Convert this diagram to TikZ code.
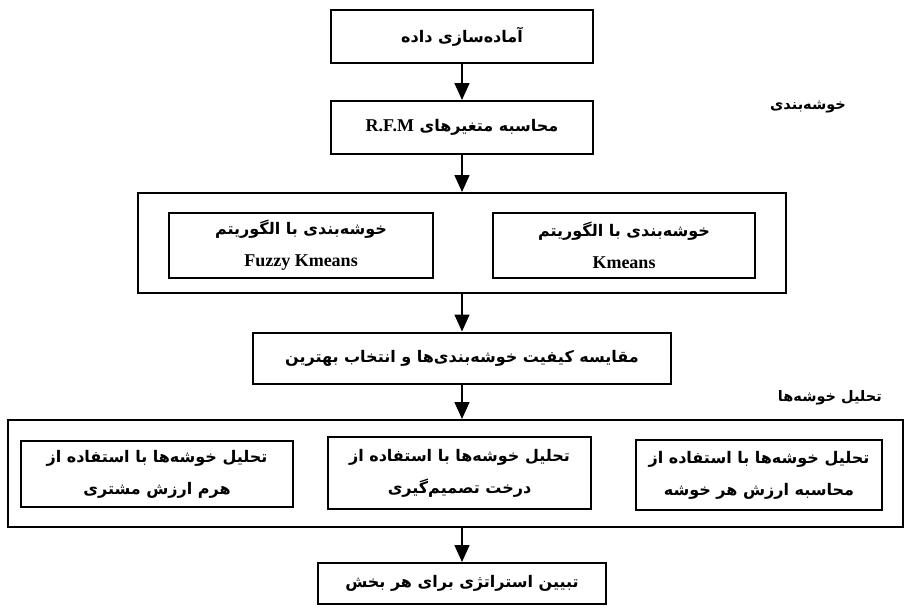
\documentclass[tikz,border=0pt]{standalone}
\usepackage{fontspec}
\setmainfont{Liberation Serif}
\newfontfamily\farsi[Script=Arabic]{DejaVu Sans}
\TeXXeTstate=1
\usetikzlibrary{arrows.meta}
\newcommand{\fatext}[1]{{\farsi\beginR #1\endR}}
\newcommand{\entext}[1]{{\rmfamily\fontsize{18}{20}\selectfont #1}}
\tikzset{
  stepbox/.style={draw, line width=2pt, inner sep=0pt, align=center, font=\bfseries\fontsize{16}{32}\selectfont},
  framebox/.style={draw, line width=2pt, inner sep=0pt},
  steplabel/.style={anchor=east, inner sep=0pt, font=\bfseries\fontsize{14.5}{16}\selectfont},
  flow/.style={line width=1.6pt, -{Triangle[width=15pt,length=17pt]}}
}
\begin{document}
\begin{tikzpicture}[x=1pt,y=-1pt]
\useasboundingbox (0,0) rectangle (909,610);
\node[stepbox, minimum width=262pt, minimum height=53pt] (prep) at (462,36.5) {\fatext{آماده‌سازی داده}};
\node[stepbox, minimum width=262pt, minimum height=53pt] (rfm) at (462,127.5) {\fatext{محاسبه متغیرهای \beginL\entext{R.F.M}\endL}};
\node[steplabel] (clusterlabel) at (846,107) {\fatext{خوشه‌بندی}};
\node[framebox, minimum width=648pt, minimum height=100pt] (clusterframe) at (462,243) {};
\node[stepbox, minimum width=262pt, minimum height=65pt] (kmeans) at (624,245.5) {\fatext{خوشه‌بندی با الگوریتم}\\\entext{Kmeans}};
\node[stepbox, minimum width=264pt, minimum height=65pt] (fuzzy) at (301,245.5) {\fatext{خوشه‌بندی با الگوریتم}\\\entext{Fuzzy Kmeans}};
\node[stepbox, minimum width=418pt, minimum height=51pt] (compare) at (462,358) {\fatext{مقایسه کیفیت خوشه‌بندی‌ها و انتخاب بهترین}};
\node[steplabel] (analysislabel) at (882,398) {\fatext{تحلیل خوشه‌ها}};
\node[framebox, minimum width=895pt, minimum height=107pt] (analysisframe) at (455.5,473.5) {};
\node[stepbox, minimum width=246pt, minimum height=70pt] (value) at (759,475) {\fatext{تحلیل خوشه‌ها با استفاده از}\\\fatext{محاسبه ارزش هر خوشه}};
\node[stepbox, minimum width=263pt, minimum height=72pt] (tree) at (459.5,473) {\fatext{تحلیل خوشه‌ها با استفاده از}\\\fatext{درخت تصمیم‌گیری}};
\node[stepbox, minimum width=272pt, minimum height=66pt] (pyramid) at (157,474) {\fatext{تحلیل خوشه‌ها با استفاده از}\\\fatext{هرم ارزش مشتری}};
\node[stepbox, minimum width=288pt, minimum height=41pt] (strategy) at (462,583.5) {\fatext{تبیین استراتژی برای هر بخش}};
\draw[flow] (prep) -- (rfm);
\draw[flow] (rfm) -- (clusterframe);
\draw[flow] (clusterframe.south -| compare.north) -- (compare);
\draw[flow] (compare) -- (compare.south |- analysisframe.north);
\draw[flow] (analysisframe.south -| strategy.north) -- (strategy);
\end{tikzpicture}
\end{document}
